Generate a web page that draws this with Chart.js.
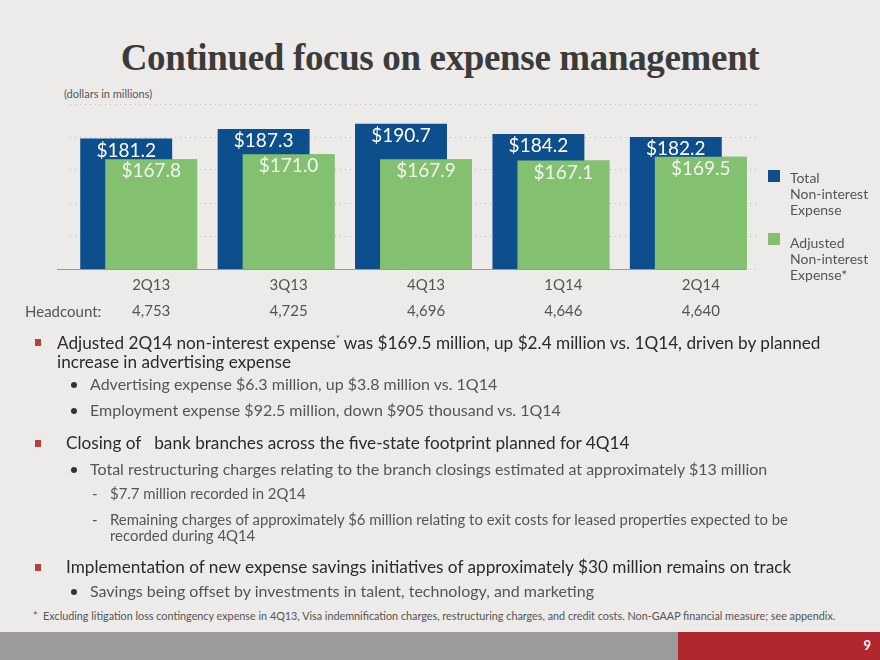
<!DOCTYPE html>
<html>
<head>
<meta charset="utf-8">
<script src="https://cdn.jsdelivr.net/npm/chart.js@4.4.1/dist/chart.umd.min.js"></script>
<style>
  body { margin: 0; background: #ecebe9; }
  #slide { position: relative; width: 880px; height: 660px; overflow: hidden; background: #ecebe9; font-family: Lato, "Noto Sans", sans-serif; }
  .t { position: absolute; white-space: nowrap; }
  #title { left: 0; width: 880px; text-align: center; top: 36px; font-family: "Liberation Serif", serif; font-weight: bold; font-size: 37px; color: #3b3b3b; letter-spacing: -0.35px; }
  #units { left: 64px; top: 87px; font-size: 11px; color: #555; }
  #chartBox { position: absolute; left: 0; top: 95px; }
  .lg { position: absolute; left: 790px; font-size: 14px; line-height: 16px; color: #555; }
  .sw { position: absolute; left: 768px; width: 12px; height: 12px; }
  .l1 { font-size: 17.2px; color: #2b2b2b; }
  .l2 { font-size: 16px; color: #555; }
  .l3 { font-size: 14.9px; color: #555; }
  .sq { position: absolute; left: 35px; width: 6px; height: 7px; background: #b3413f; }
  .dot { position: absolute; left: 71px; width: 6px; height: 6px; border-radius: 50%; background: #333; }
  #foot { left: 33px; top: 609px; font-size: 10.8px; color: #555; }
  #barGray { position: absolute; left: 0; top: 632px; width: 678px; height: 28px; background: #9b9b9b; }
  #barRed { position: absolute; left: 678px; top: 632px; width: 202px; height: 28px; background: #b0282d; }
  #pg { right: 9px; top: 637px; font-size: 13px; font-weight: bold; color: #fff; }
</style>
</head>
<body>
<div id="slide">
  <div id="title" class="t">Continued focus on expense management</div>
  <div id="units" class="t">(dollars in millions)</div>

  <div id="chartBox"><canvas id="gastos" width="880" height="240"></canvas></div>

  <div class="t" style="left:25px; top:302px; font-size:15px; color:#555;">Headcount:</div>

  <div class="sw" style="top:170px; background:#0c4f8c;"></div>
  <div class="lg" style="top:170px;">Total<br>Non-interest<br>Expense</div>
  <div class="sw" style="top:233px; background:#83c06f;"></div>
  <div class="lg" style="top:235px;">Adjusted<br>Non-interest<br>Expense*</div>

  <div class="sq" style="top:339px;"></div>
  <div class="t l1" style="left:57px; top:332px;">Adjusted 2Q14 non-interest expense<sup style="font-size:9px">*</sup> was $169.5 million, up $2.4 million vs. 1Q14, driven by planned</div>
  <div class="t l1" style="left:57px; top:351px;">increase in advertising expense</div>
  <div class="dot" style="top:382px;"></div>
  <div class="t l2" style="left:90px; top:374px;">Advertising expense $6.3 million, up $3.8 million vs. 1Q14</div>
  <div class="dot" style="top:408px;"></div>
  <div class="t l2" style="left:90px; top:400px;">Employment expense $92.5 million, down $905 thousand vs. 1Q14</div>

  <div class="sq" style="top:440px;"></div>
  <div class="t l1" style="left:66px; top:432px;">Closing of &nbsp; bank branches across the five-state footprint planned for 4Q14</div>
  <div class="dot" style="top:467px;"></div>
  <div class="t l2" style="left:90px; top:459px;">Total restructuring charges relating to the branch closings estimated at approximately $13 million</div>
  <div class="t l3" style="left:92px; top:484px;">-</div>
  <div class="t l3" style="left:110px; top:484px;">$7.7 million recorded in 2Q14</div>
  <div class="t l3" style="left:92px; top:510px;">-</div>
  <div class="t l3" style="left:110px; top:510px;">Remaining charges of approximately $6 million relating to exit costs for leased properties expected to be</div>
  <div class="t l3" style="left:110px; top:526px;">recorded during 4Q14</div>

  <div class="sq" style="top:564px;"></div>
  <div class="t l1" style="left:66px; top:556px;">Implementation of new expense savings initiatives of approximately $30 million remains on track</div>
  <div class="dot" style="top:589px;"></div>
  <div class="t l2" style="left:90px; top:581px;">Savings being offset by investments in talent, technology, and marketing</div>

  <div id="foot" class="t">*&nbsp; Excluding litigation loss contingency expense in 4Q13, Visa indemnification charges, restructuring charges, and credit costs. Non-GAAP financial measure; see appendix.</div>

  <div id="barGray"></div>
  <div id="barRed"></div>
  <div id="pg" class="t">9</div>
</div>

<script>
// datos del grafico
const trimestres = ['2Q13', '3Q13', '4Q13', '1Q14', '2Q14'];
const headcount = ['4,753', '4,725', '4,696', '4,646', '4,640'];
const gastoTotal = [181.2, 187.3, 190.7, 184.2, 182.2];
const gastoAjustado = [167.8, 171.0, 167.9, 167.1, 169.5];

const AZUL = '#0c4f8c';
const VERDE = '#83c06f';

// las barras verdes van encima de las azules, y las etiquetas encima de todo
const etiquetas = {
  id: 'etiquetas',
  afterDatasetsDraw(chart) {
    const ctx = chart.ctx;
    const area = chart.chartArea;
    ctx.save();
    ctx.beginPath();
    ctx.rect(area.left - 20, area.top, area.width + 40, area.height);
    ctx.clip();
    chart.getDatasetMeta(1).controller.draw();
    ctx.restore();

    // linea base
    const x = chart.scales.x;
    const ultima = chart.getDatasetMeta(1).data[trimestres.length - 1];
    ctx.save();
    ctx.strokeStyle = '#9a9a9a';
    ctx.lineWidth = 1;
    ctx.beginPath();
    ctx.moveTo(x.left - 13, area.bottom + 0.5);
    ctx.lineTo(ultima.x + ultima.width / 2, area.bottom + 0.5);
    ctx.stroke();

    ctx.font = '19px Lato';
    ctx.textAlign = 'center';
    ctx.textBaseline = 'middle';
    chart.data.datasets.forEach(function (ds, i) {
      chart.getDatasetMeta(i).data.forEach(function (bar, j) {
        ctx.fillStyle = i == 0 ? '#ffffff' : '#f3f7ef';
        ctx.fillText('$' + ds.data[j].toFixed(1), bar.x, bar.y + 12);
      });
    });
    ctx.restore();
  }
};

new Chart(document.getElementById('gastos').getContext('2d'), {
  type: 'bar',
  data: {
    labels: trimestres.map((t, i) => [t, headcount[i]]),
    datasets: [
      { label: 'Total Non-interest Expense', data: gastoTotal, backgroundColor: AZUL },
      { label: 'Adjusted Non-interest Expense*', data: gastoAjustado, backgroundColor: VERDE }
    ]
  },
  options: {
    responsive: false,
    animation: false,
    events: [],
    layout: { padding: { left: 70, right: 123, top: 9, bottom: 8 } },
    datasets: {
      bar: { categoryPercentage: 50 / 137.5, barPercentage: 92 / 25 }
    },
    plugins: {
      legend: { display: false },
      tooltip: { enabled: false }
    },
    scales: {
      x: {
        grid: { display: false, drawTicks: false },
        border: { display: false },
        ticks: {
          color: '#555',
          font: { family: 'Lato', size: 15, lineHeight: 26 / 15 },
          padding: 3,
          labelOffset: 12.5,
          maxRotation: 0
        }
      },
      y: {
        min: 97,
        max: 203.5,
        ticks: { display: false, stepSize: 21.3 },
        border: { display: false, dash: [1, 4] },
        grid: { color: 'rgba(0,0,0,0.2)', drawTicks: false }
      }
    }
  },
  plugins: [etiquetas]
});
</script>
</body>
</html>
